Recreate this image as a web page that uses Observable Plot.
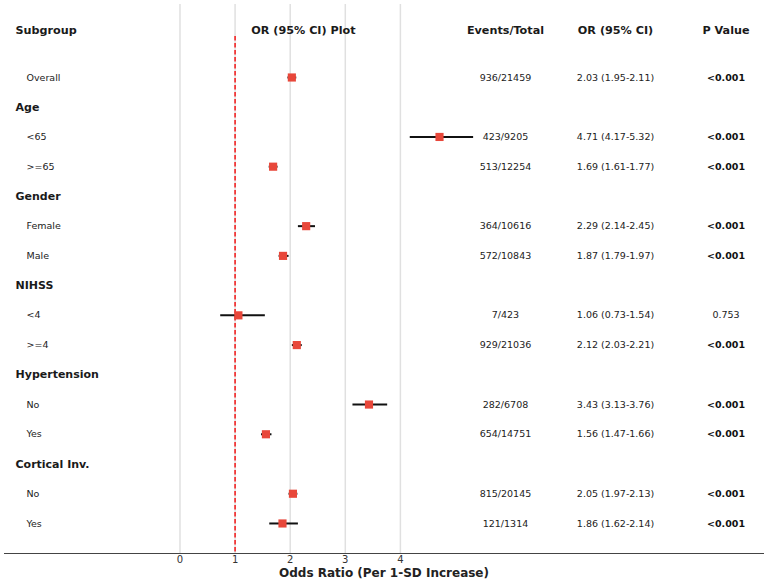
<!DOCTYPE html>
<html>
<head>
<meta charset="utf-8">
<script src="https://cdn.jsdelivr.net/npm/d3@7"></script>
<script src="https://cdn.jsdelivr.net/npm/@observablehq/plot@0.6"></script>
<style>
  html, body { margin: 0; padding: 0; background: #fff; }
  svg { font-family: "DejaVu Sans", sans-serif; }
</style>
</head>
<body>
<div id="chart"></div>
<script>
// ---- data ----
const rowLabels = ["Overall", "Age", "<65", ">=65", "Gender", "Female", "Male", "NIHSS", "<4", ">=4",
  "Hypertension", "No", "Yes", "Cortical Inv.", "No", "Yes"];
const rowIsGroup = [false, true, false, false, true, false, false, true, false, false,
  true, false, false, true, false, false];
const orValues = [2.03, null, 4.71, 1.69, null, 2.29, 1.87, null, 1.06, 2.12, null, 3.43, 1.56, null, 2.05, 1.86];
const ciLow    = [1.95, null, 4.17, 1.61, null, 2.14, 1.79, null, 0.73, 2.03, null, 3.13, 1.47, null, 1.97, 1.62];
const ciHigh   = [2.11, null, 5.32, 1.77, null, 2.45, 1.97, null, 1.54, 2.21, null, 3.76, 1.66, null, 2.13, 2.14];
const eventsTotal = ["936/21459", "", "423/9205", "513/12254", "", "364/10616", "572/10843", "", "7/423", "929/21036",
  "", "282/6708", "654/14751", "", "815/20145", "121/1314"];
const pValues = ["<0.001", "", "<0.001", "<0.001", "", "<0.001", "<0.001", "", "0.753", "<0.001",
  "", "<0.001", "<0.001", "", "<0.001", "<0.001"];
const columnHeaders = ["Subgroup", "OR (95% CI) Plot", "Events/Total", "OR (95% CI)", "P Value"];
const xTicks = [0, 1, 2, 3, 4];
const referenceOR = 1;
const xLabel = "Odds Ratio (Per 1-SD Increase)";

// ---- build table ----
const rows = rowLabels.map((label, i) => ({
  i, label, group: rowIsGroup[i],
  or: orValues[i], lo: ciLow[i], hi: ciHigh[i],
  events: eventsTotal[i], p: pValues[i],
  orText: orValues[i] == null ? "" : `${orValues[i].toFixed(2)} (${ciLow[i].toFixed(2)}-${ciHigh[i].toFixed(2)})`
}));
const est = rows.filter(d => d.or != null);

// column anchor positions (in x data units)
const colX = {sub: -2.985, item: -2.786, plot: 2.241, events: 5.907, orText: 7.904, p: 9.909};
const headerRow = -1.6;
const headers = columnHeaders.map((h, k) => ({
  h, x: [colX.sub, colX.plot, colX.events, colX.orText, colX.p][k], first: k === 0
}));

const plot = Plot.plot({
  width: 767,
  height: 582,
  marginLeft: 4,
  marginRight: 4,
  marginTop: 4,
  marginBottom: 29,
  style: {fontFamily: "DejaVu Sans, sans-serif", color: "#222", background: "#fff"},
  x: {domain: [-3.185, 10.59]},
  y: {domain: [16.01, -2.455], axis: null},
  marks: [
    Plot.ruleX(xTicks, {stroke: "#e0e0e0", strokeWidth: 1.5}),
    Plot.ruleX([referenceOR], {y1: -1.38, y2: 16.01, stroke: "#f23a3a", strokeWidth: 1.8, strokeDasharray: "4.5,2.5"}),
    Plot.frame({anchor: "bottom", stroke: "#444", strokeWidth: 1}),
    Plot.axisX(xTicks, {tickSize: 0, tickPadding: 2, fontSize: 10, label: null, color: "#333"}),
    Plot.text([xLabel], {frameAnchor: "bottom", dy: 20, lineAnchor: "middle", fontSize: 12, fontWeight: "bold", fill: "#222"}),
    // CI lines and markers
    Plot.link(est, {x1: "lo", x2: "hi", y1: "i", y2: "i", stroke: "#111", strokeWidth: 2}),
    Plot.dot(est, {x: "or", y: "i", symbol: "square", r: 4.6, fill: "#e8473a", stroke: "none"}),
    // headers
    Plot.text(headers.filter(d => d.first), {x: "x", y: () => headerRow, text: "h", textAnchor: "start", fontSize: 11.2, fontWeight: "bold", fill: "#1a1a1a"}),
    Plot.text(headers.filter(d => !d.first), {x: "x", y: () => headerRow, text: "h", textAnchor: "middle", fontSize: 11.2, fontWeight: "bold", fill: "#1a1a1a"}),
    // row labels
    Plot.text(rows.filter(d => d.group), {x: () => colX.sub, y: "i", text: "label", textAnchor: "start", fontSize: 11, fontWeight: "bold", fill: "#1a1a1a"}),
    Plot.text(rows.filter(d => !d.group), {x: () => colX.item, y: "i", text: "label", textAnchor: "start", fontSize: 9.5, fill: "#222"}),
    // text columns
    Plot.text(est, {x: () => colX.events, y: "i", text: "events", fontSize: 9.5, fill: "#222"}),
    Plot.text(est, {x: () => colX.orText, y: "i", text: "orText", fontSize: 9.5, fill: "#222"}),
    Plot.text(est.filter(d => d.p.startsWith("<")), {x: () => colX.p, y: "i", text: "p", fontSize: 9.5, fontWeight: "bold", fill: "#111"}),
    Plot.text(est.filter(d => !d.p.startsWith("<")), {x: () => colX.p, y: "i", text: "p", fontSize: 9.5, fill: "#222"})
  ]
});
document.getElementById("chart").appendChild(plot);
</script>
</body>
</html>
